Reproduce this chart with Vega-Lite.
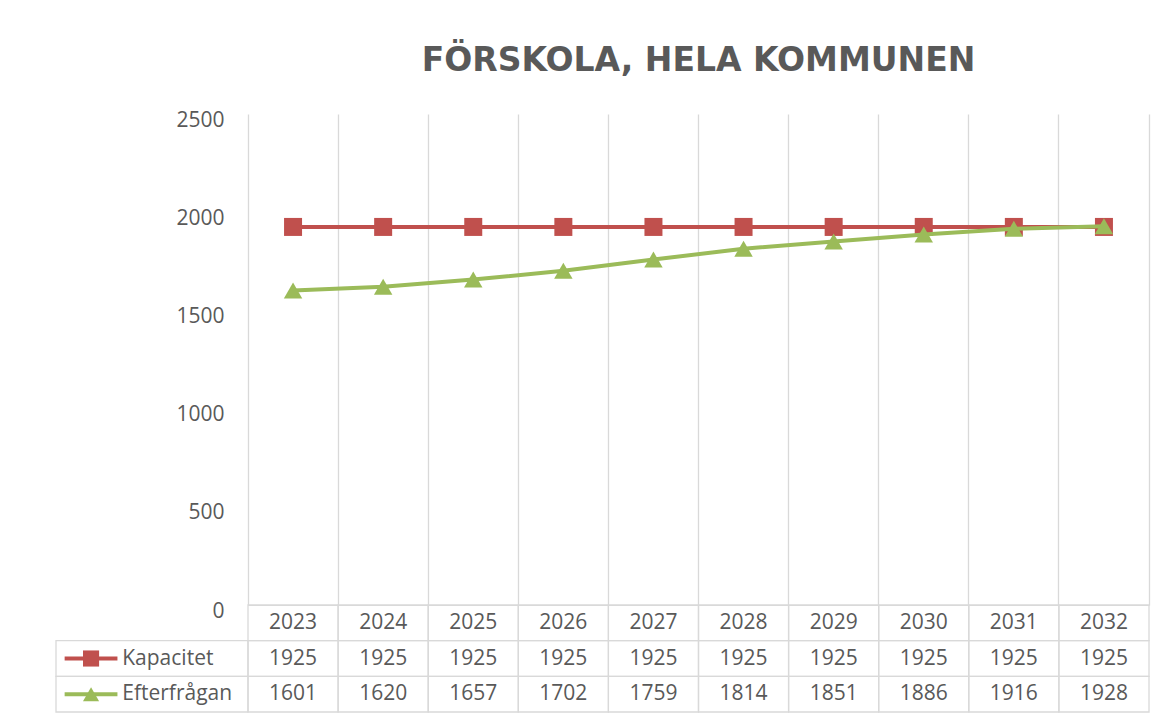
{
  "$schema": "https://vega.github.io/schema/vega-lite/v6.json",
  "padding": {"left": 55, "top": 45, "right": 5, "bottom": 5},
  "background": "white",
  "title": {
    "text": "FÖRSKOLA, HELA KOMMUNEN",
    "anchor": "middle",
    "dx": 96,
    "offset": 31,
    "font": "DejaVu Sans",
    "fontSize": 33,
    "fontWeight": "bold",
    "color": "#595959"
  },
  "datasets": {
    "main": [
      {"year": "2023", "series": "Kapacitet", "value": 1925},
      {"year": "2024", "series": "Kapacitet", "value": 1925},
      {"year": "2025", "series": "Kapacitet", "value": 1925},
      {"year": "2026", "series": "Kapacitet", "value": 1925},
      {"year": "2027", "series": "Kapacitet", "value": 1925},
      {"year": "2028", "series": "Kapacitet", "value": 1925},
      {"year": "2029", "series": "Kapacitet", "value": 1925},
      {"year": "2030", "series": "Kapacitet", "value": 1925},
      {"year": "2031", "series": "Kapacitet", "value": 1925},
      {"year": "2032", "series": "Kapacitet", "value": 1925},
      {"year": "2023", "series": "Efterfrågan", "value": 1601},
      {"year": "2024", "series": "Efterfrågan", "value": 1620},
      {"year": "2025", "series": "Efterfrågan", "value": 1657},
      {"year": "2026", "series": "Efterfrågan", "value": 1702},
      {"year": "2027", "series": "Efterfrågan", "value": 1759},
      {"year": "2028", "series": "Efterfrågan", "value": 1814},
      {"year": "2029", "series": "Efterfrågan", "value": 1851},
      {"year": "2030", "series": "Efterfrågan", "value": 1886},
      {"year": "2031", "series": "Efterfrågan", "value": 1916},
      {"year": "2032", "series": "Efterfrågan", "value": 1928}
    ]
  },
  "columns": 2,
  "spacing": 0,
  "bounds": "flush",
  "resolve": {"scale": {"x": "independent", "y": "independent"}},
  "concat": [
    {
      "width": 192,
      "height": 491,
      "data": {"values": [{}]},
      "mark": {"type": "text", "text": ""}
    },
    {
      "width": 901,
      "height": 491,
      "data": {"name": "main"},
      "encoding": {
        "x": {
          "field": "year",
          "type": "ordinal",
          "scale": {"type": "band", "paddingInner": 0, "paddingOuter": 0},
          "axis": {
            "title": null,
            "labels": false,
            "ticks": false,
            "domain": true,
            "domainColor": "#D9D9D9",
            "grid": true,
            "gridColor": "#D9D9D9",
            "gridWidth": 1.3,
            "bandPosition": 1
          }
        },
        "y": {
          "field": "value",
          "type": "quantitative",
          "scale": {"domain": [0, 2500], "nice": false},
          "axis": {
            "title": null,
            "values": [0, 500, 1000, 1500, 2000, 2500],
            "format": "d",
            "domain": true,
            "domainColor": "#D9D9D9",
            "domainWidth": 1.3,
            "ticks": false,
            "grid": false,
            "labelPadding": 24,
            "labelFont": "Open Sans",
            "labelFontSize": 21,
            "labelColor": "#595959",
            "labelOffset": 6
          }
        },
        "color": {
          "field": "series",
          "type": "nominal",
          "scale": {"domain": ["Kapacitet", "Efterfrågan"], "range": ["#C0504D", "#9BBB59"]},
          "legend": null
        },
        "shape": {
          "field": "series",
          "type": "nominal",
          "scale": {"domain": ["Kapacitet", "Efterfrågan"], "range": ["square", "triangle-up"]},
          "legend": null
        }
      },
      "layer": [
        {
          "transform": [{"filter": "datum.series == 'Kapacitet'"}],
          "mark": {"type": "line", "strokeWidth": 4}
        },
        {
          "transform": [{"filter": "datum.series == 'Kapacitet'"}],
          "mark": {"type": "point", "filled": true, "opacity": 1, "size": 324}
        },
        {
          "transform": [{"filter": "datum.series == 'Efterfrågan'"}],
          "mark": {"type": "line", "strokeWidth": 4}
        },
        {
          "transform": [{"filter": "datum.series == 'Efterfrågan'"}],
          "mark": {"type": "point", "filled": true, "opacity": 1, "size": 340}
        }
      ]
    },
    {
      "width": 192,
      "height": 107,
      "data": {"name": "main"},
      "transform": [{"filter": "datum.year == '2023'"}],
      "encoding": {
        "y": {
          "field": "series",
          "type": "nominal",
          "scale": {"type": "band", "domain": ["År", "Kapacitet", "Efterfrågan"], "paddingInner": 0, "paddingOuter": 0},
          "axis": null
        }
      },
      "layer": [
        {
          "mark": {"type": "rect", "filled": false, "stroke": "#D9D9D9", "strokeWidth": 1.3}
        },
        {
          "mark": {"type": "rule", "strokeWidth": 4},
          "encoding": {
            "x": {"datum": 9, "type": "quantitative", "scale": {"domain": [0, 192]}, "axis": null},
            "x2": {"datum": 64},
            "color": {
              "field": "series",
              "type": "nominal",
              "scale": {"domain": ["Kapacitet", "Efterfrågan"], "range": ["#C0504D", "#9BBB59"]},
              "legend": null
            }
          }
        },
        {
          "mark": {"type": "point", "filled": true, "opacity": 1, "size": 260},
          "encoding": {
            "x": {"datum": 36.5, "type": "quantitative"},
            "color": {"field": "series", "type": "nominal", "legend": null},
            "shape": {
              "field": "series",
              "type": "nominal",
              "scale": {"domain": ["Kapacitet", "Efterfrågan"], "range": ["square", "triangle-up"]},
              "legend": null
            }
          }
        },
        {
          "mark": {"type": "text", "align": "left", "baseline": "middle", "font": "Open Sans", "fontSize": 21, "color": "#595959"},
          "encoding": {
            "x": {"datum": 69, "type": "quantitative"},
            "text": {"field": "series", "type": "nominal"}
          }
        }
      ]
    },
    {
      "width": 901,
      "height": 107,
      "data": {"name": "main"},
      "encoding": {
        "x": {
          "field": "year",
          "type": "ordinal",
          "scale": {"type": "band", "paddingInner": 0, "paddingOuter": 0},
          "axis": null
        }
      },
      "layer": [
        {
          "mark": {"type": "rect", "filled": false, "stroke": "#D9D9D9", "strokeWidth": 1.3},
          "encoding": {
            "y": {
              "field": "series",
              "type": "nominal",
              "scale": {"type": "band", "domain": ["År", "Kapacitet", "Efterfrågan"], "paddingInner": 0, "paddingOuter": 0},
              "axis": null
            }
          }
        },
        {
          "mark": {"type": "text", "align": "center", "baseline": "middle", "font": "Open Sans", "fontSize": 21, "color": "#595959"},
          "encoding": {
            "y": {"field": "series", "type": "nominal"},
            "text": {"field": "value", "type": "nominal"}
          }
        },
        {
          "transform": [{"filter": "datum.series == 'Kapacitet'"}],
          "mark": {"type": "rect", "filled": false, "stroke": "#D9D9D9", "strokeWidth": 1.3},
          "encoding": {
            "y": {"datum": "År", "type": "nominal"}
          }
        },
        {
          "transform": [{"filter": "datum.series == 'Kapacitet'"}],
          "mark": {"type": "text", "align": "center", "baseline": "middle", "font": "Open Sans", "fontSize": 21, "color": "#595959"},
          "encoding": {
            "y": {"datum": "År", "type": "nominal"},
            "text": {"field": "year", "type": "nominal"}
          }
        }
      ]
    }
  ],
  "config": {
    "view": {"stroke": null},
    "font": "Open Sans"
  }
}
